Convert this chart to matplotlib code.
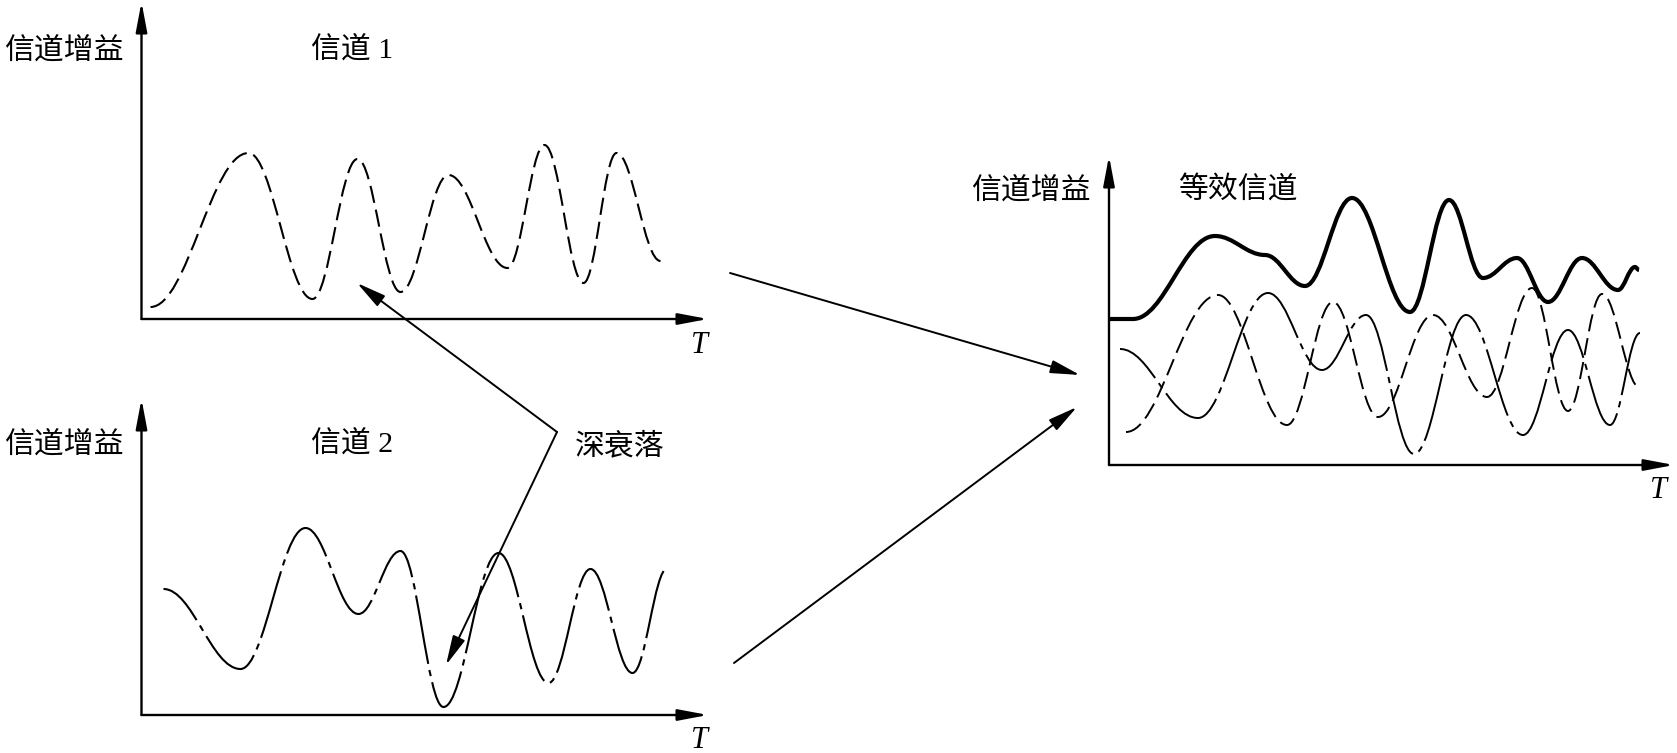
import matplotlib
matplotlib.use("Agg")
import matplotlib.pyplot as plt
from matplotlib.path import Path
from matplotlib.patches import PathPatch

plt.rcParams["font.family"] = ["Noto Sans CJK SC", "DejaVu Sans"]
plt.rcParams["lines.scale_dashes"] = False

W, H = 1677, 753

ch1_t = [9, 107, 171, 216, 259, 307, 366, 403, 442, 475, 519]
ch1_g = [12, 166, 20, 160, 27, 144, 51, 174, 36, 166, 58]

ch2_t = [22, 99, 164, 217, 259, 302, 357, 407, 449, 491, 526]
ch2_g = [126, 46, 187, 101, 164, 8, 162, 32, 146, 42, 147]

# equivalent channel panel
eq_t = [0, 24, 106, 156, 196, 243, 301, 340, 374, 408, 439, 473, 509, 526, 530]
eq_g = [146, 146, 229, 210, 179, 267, 153, 265, 187, 207, 163, 207, 175, 198, 195]

eq1_t = [17, 109, 178, 224, 269, 324, 378, 423, 459, 493, 531]
eq1_g = [33, 170, 40, 163, 48, 150, 68, 177, 54, 171, 77]

eq2_t = [11, 89, 159, 213, 257, 305, 357, 414, 459, 501, 531]
eq2_g = [116, 47, 172, 95, 150, 11, 150, 30, 135, 40, 132]

DASH = (0, (12.5, 5))
DASHDOT = (16, (50, 4.5, 4.5, 4.5))


def smooth_path(t, g, k=0.38):
    # cubic segments with flat tangents at each read peak / trough
    verts = [(t[0], g[0])]
    codes = [Path.MOVETO]
    for i in range(len(t) - 1):
        dx = t[i + 1] - t[i]
        verts += [(t[i] + k * dx, g[i]), (t[i + 1] - k * dx, g[i + 1]), (t[i + 1], g[i + 1])]
        codes += [Path.CURVE4] * 3
    return Path(verts, codes)


def add_curve(ax, t, g, lw, ls):
    ax.add_patch(PathPatch(smooth_path(t, g), fill=False, lw=lw, linestyle=ls,
                           edgecolor="black", capstyle="butt", joinstyle="round",
                           clip_on=False))


def make_panel(x0, y0, xtip, ytop):
    # box in pixels: origin (x0, y0), arrow tips at xtip / ytop
    ax = fig.add_axes([x0 / W, (H - y0) / H, (xtip - x0) / W, (y0 - ytop) / H])
    ax.set_xlim(0, xtip - x0)
    ax.set_ylim(0, y0 - ytop)
    ax.axis("off")
    head = dict(arrowstyle="-|>,head_length=0.9,head_width=0.17", mutation_scale=20,
                lw=1.7, color="black", shrinkA=0, shrinkB=0)
    ax.annotate("", xy=(1, 0), xytext=(0, 0), xycoords="axes fraction", arrowprops=head)
    ax.annotate("", xy=(0, 1), xytext=(0, 0), xycoords="axes fraction", arrowprops=head)
    return ax


fig = plt.figure(figsize=(W / 100, H / 100), dpi=100)
top = fig.add_axes([0, 0, 1, 1])
top.set_xlim(0, W)
top.set_ylim(H, 0)
top.axis("off")

ax1 = make_panel(141.5, 319, 708, 2)
add_curve(ax1, ch1_t, ch1_g, 1.5, DASH)

ax2 = make_panel(141.5, 715, 708, 399)
add_curve(ax2, ch2_t, ch2_g, 1.5, DASHDOT)

ax3 = make_panel(1109, 465, 1674, 156)
add_curve(ax3, eq1_t, eq1_g, 1.4, DASH)
add_curve(ax3, eq2_t, eq2_g, 1.4, DASHDOT)
add_curve(ax3, eq_t, eq_g, 3.0, "solid")

mixed = ["Liberation Serif", "Noto Sans CJK SC"]
fs = 21.5
top.text(64, 50, "信道增益", fontsize=fs, ha="center", va="center")
top.text(352, 50, "信道 1", fontsize=fs, ha="center", va="center", family=mixed)
top.text(64, 444, "信道增益", fontsize=fs, ha="center", va="center")
top.text(352, 444, "信道 2", fontsize=fs, ha="center", va="center", family=mixed)
top.text(620, 446, "深衰落", fontsize=fs, ha="center", va="center")
top.text(1031, 190, "信道增益", fontsize=fs, ha="center", va="center")
top.text(1238, 190, "等效信道", fontsize=fs, ha="center", va="center")
for tx, ty in [(700, 345), (700, 740), (1659, 490)]:
    top.text(tx, ty, "T", fontsize=22, ha="center", va="center",
             family="Liberation Serif", style="italic")

arr = dict(arrowstyle="-|>,head_length=0.9,head_width=0.2", mutation_scale=20,
           lw=1.4, color="black", shrinkA=0, shrinkB=0)
# deep fade pointers
top.annotate("", xy=(357, 283), xytext=(557, 432), arrowprops=arr)
top.annotate("", xy=(446, 665), xytext=(557, 432), arrowprops=arr)
# combining arrows
top.annotate("", xy=(1080, 375), xytext=(730, 273), arrowprops=arr)
top.annotate("", xy=(1077, 407), xytext=(734, 663), arrowprops=arr)

fig.savefig("out.png", dpi=100)
